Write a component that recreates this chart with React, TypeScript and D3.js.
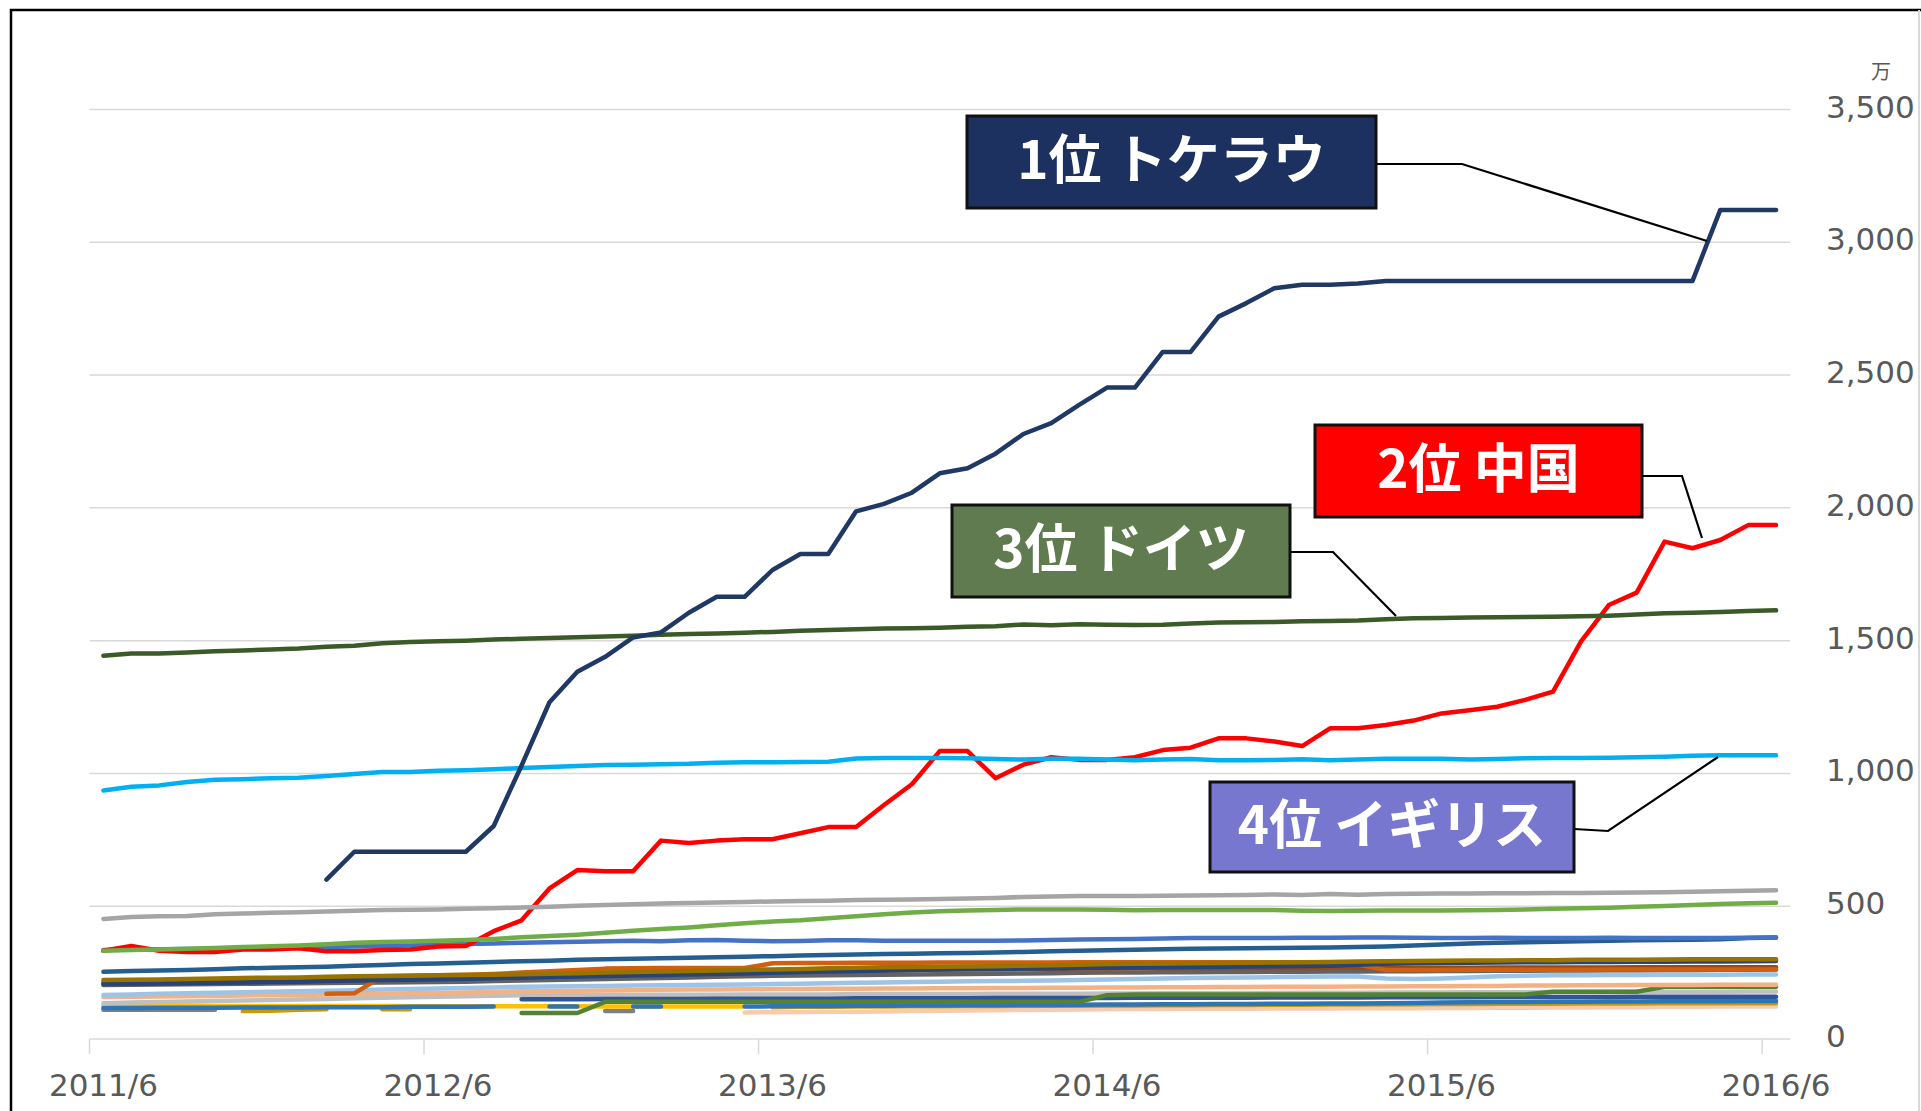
import * as d3 from "d3";

// months on the category axis (2011/6 .. 2016/6)
const months = [
  "2011/6", "2011/7", "2011/8", "2011/9", "2011/10", "2011/11", "2011/12",
  "2012/1", "2012/2", "2012/3", "2012/4", "2012/5", "2012/6", "2012/7", "2012/8", "2012/9", "2012/10", "2012/11", "2012/12",
  "2013/1", "2013/2", "2013/3", "2013/4", "2013/5", "2013/6", "2013/7", "2013/8", "2013/9", "2013/10", "2013/11", "2013/12",
  "2014/1", "2014/2", "2014/3", "2014/4", "2014/5", "2014/6", "2014/7", "2014/8", "2014/9", "2014/10", "2014/11", "2014/12",
  "2015/1", "2015/2", "2015/3", "2015/4", "2015/5", "2015/6", "2015/7", "2015/8", "2015/9", "2015/10", "2015/11", "2015/12",
  "2016/1", "2016/2", "2016/3", "2016/4", "2016/5", "2016/6",
];
const tickLabels = ["2011/6", "2012/6", "2013/6", "2014/6", "2015/6", "2016/6"];
const yTicks = [0, 500, 1000, 1500, 2000, 2500, 3000, 3500];

const _ = null;

// 万 units
const tokelau = [
  _, _, _, _, _, _, _, _, 600, 705, 705, 705, 705, 705, 802, 1030, 1268, 1383, 1439, 1512,
  1531, 1605, 1665, 1665, 1766, 1826, 1826, 1987, 2015, 2057, 2130, 2149, 2204, 2278, 2319, 2388,
  2453, 2453, 2587, 2587, 2720, 2771, 2827, 2840, 2840, 2845, 2854, 2854, 2854, 2854, 2854, 2854,
  2854, 2854, 2854, 2854, 2854, 2854, 3122, 3122, 3122,
];
const china = [
  332, 350, 332, 328, 328, 337, 337, 342, 330, 330, 335, 337, 348, 350, 406, 447, 567, 636, 632, 632,
  747, 738, 747, 752, 752, 775, 798, 798, 881, 959, 1084, 1084, 982, 1033, 1061, 1051,
  1051, 1061, 1088, 1097, 1132, 1132, 1120, 1103, 1170, 1170, 1182, 1199, 1226, 1238, 1251, 1277,
  1308, 1496, 1634, 1681, 1873, 1848, 1879, 1935, 1935,
];
const germany = [
  1443, 1452, 1452, 1455, 1460, 1463, 1467, 1470, 1477, 1481, 1490, 1495, 1498, 1500, 1504, 1507, 1510, 1513, 1516, 1518,
  1522, 1525, 1527, 1530, 1533, 1537, 1540, 1543, 1546, 1547, 1549, 1552, 1554, 1561, 1558, 1562,
  1560, 1559, 1560, 1565, 1568, 1569, 1570, 1573, 1574, 1576, 1581, 1584, 1585, 1587, 1588, 1589,
  1590, 1592, 1594, 1598, 1603, 1605, 1608, 1612, 1614,
];
const uk = [
  936, 950, 955, 968, 976, 978, 982, 984, 990, 998, 1005, 1005, 1010, 1012, 1016, 1020, 1024, 1028, 1032, 1033,
  1035, 1036, 1040, 1042, 1042, 1043, 1044, 1056, 1058, 1058, 1058, 1057, 1054, 1052, 1055, 1055,
  1052, 1050, 1052, 1054, 1050, 1050, 1051, 1053, 1050, 1052, 1055, 1055, 1055, 1052, 1054, 1057,
  1058, 1058, 1059, 1061, 1063, 1067, 1068, 1068, 1068,
];

// the smaller countries
const grayA = [
  452, 459, 462, 463, 470, 473, 475, 477, 480, 483, 486, 487, 488, 490, 492, 495, 498, 502, 505, 507,
  510, 512, 514, 516, 518, 520, 521, 523, 524, 525, 527, 529, 531, 535, 537, 538,
  538, 538, 539, 540, 541, 542, 544, 542, 546, 543, 546, 547, 548, 548, 549, 549,
  550, 550, 551, 552, 553, 554, 556, 558, 560,
];
const greenA = [
  332, 335, 337, 340, 343, 346, 349, 352, 357, 362, 365, 367, 370, 373, 377, 383, 388, 393, 400, 408,
  414, 420, 428, 436, 442, 447, 455, 462, 470, 476, 481, 484, 486, 488, 488, 488,
  487, 485, 486, 486, 486, 486, 486, 483, 482, 483, 484, 484, 484, 485, 486, 488,
  490, 492, 494, 498, 501, 505, 508, 511, 513,
];
const blueA = [
  335, 337, 338, 339, 340, 342, 344, 345, 346, 348, 350, 352, 355, 358, 360, 362, 364, 366, 368, 370,
  368, 372, 373, 370, 368, 369, 372, 372, 370, 370, 370, 370, 370, 371, 373, 375,
  376, 377, 378, 380, 380, 380, 380, 381, 381, 382, 382, 381, 380, 380, 381, 380,
  380, 380, 381, 380, 380, 380, 380, 381, 382,
];
const darkBlueA = [
  253, 256, 258, 260, 263, 266, 268, 270, 272, 276, 279, 282, 284, 287, 290, 293, 295, 298, 300, 302,
  304, 306, 308, 310, 312, 314, 316, 318, 320, 321, 323, 324, 326, 328, 330, 332,
  334, 336, 338, 340, 341, 342, 343, 344, 345, 346, 348, 352, 356, 360, 362, 364,
  366, 368, 370, 372, 373, 374, 376, 380, 382,
];
const oliveA = [
  222, 223, 224, 226, 228, 230, 231, 232, 234, 236, 237, 238, 240, 241, 242, 244, 246, 248, 250, 252,
  254, 256, 258, 260, 262, 264, 266, 268, 270, 271, 272, 273, 274, 276, 278, 280,
  282, 283, 284, 285, 286, 287, 288, 289, 290, 292, 293, 294, 295, 296, 296, 297,
  297, 298, 298, 298, 299, 300, 300, 300, 300,
];
const navyA = [
  207, 208, 209, 210, 212, 213, 215, 216, 218, 220, 222, 223, 225, 227, 229, 231, 233, 235, 237, 239,
  241, 243, 245, 247, 249, 252, 254, 256, 258, 260, 262, 263, 264, 265, 266, 267,
  268, 269, 270, 271, 272, 273, 274, 275, 276, 280, 283, 285, 286, 287, 288, 289,
  289, 290, 290, 291, 291, 292, 292, 293, 294,
];
const grayB = [
  203, 204, 205, 206, 207, 208, 209, 210, 211, 212, 213, 214, 215, 216, 218, 220, 222, 224, 226, 228,
  230, 232, 234, 236, 238, 239, 240, 241, 242, 243, 244, 245, 246, 247, 248, 249,
  250, 250, 251, 251, 252, 252, 253, 253, 254, 254, 255, 255, 256, 256, 257, 257,
  258, 258, 259, 259, 260, 260, 261, 261, 262,
];
const brownA = [
  214, 215, 216, 217, 219, 220, 222, 223, 225, 227, 229, 231, 233, 235, 237, 239, 241, 243, 245, 247,
  248, 250, 251, 252, 253, 254, 255, 256, 258, 260, 262, 263, 263, 264, 264, 265,
  265, 266, 266, 266, 267, 267, 267, 267, 268, 268, 268, 268, 268, 268, 269, 269,
  269, 269, 269, 270, 270, 270, 270, 270, 270,
];
const orangeA = [
  _, _, _, _, _, _, _, _, 170, 172, 236, 238, 240, 242, 245, 250, 255, 260, 265, 266,
  267, 267, 267, 267, 285, 286, 286, 287, 287, 287, 288, 288, 288, 288, 288, 289,
  289, 289, 289, 289, 289, 289, 289, 289, 289, 280, 260, 260, 260, 261, 261, 261,
  261, 261, 262, 262, 262, 262, 262, 262, 262,
];
const lightBlueA = [
  166, 168, 170, 172, 174, 176, 178, 180, 182, 184, 186, 188, 190, 192, 194, 197, 198, 199, 200, 201,
  202, 203, 204, 205, 207, 208, 210, 212, 213, 215, 216, 217, 218, 219, 220, 222,
  224, 226, 228, 230, 231, 232, 233, 234, 235, 235, 228, 226, 228, 232, 236, 238,
  240, 240, 241, 241, 242, 242, 242, 243, 243,
];
const lightOrangeA = [
  158, 159, 160, 161, 162, 164, 165, 166, 168, 169, 170, 172, 173, 175, 177, 180, 181, 182, 183, 184,
  185, 186, 186, 187, 188, 188, 189, 189, 190, 190, 191, 191, 192, 192, 193, 193,
  194, 194, 195, 195, 196, 196, 197, 197, 197, 198, 198, 199, 199, 200, 200, 201,
  201, 202, 202, 203, 203, 203, 204, 204, 204,
];
const lightGrayA = [
  135, 137, 139, 141, 143, 145, 147, 149, 151, 153, 155, 157, 159, 161, 163, 165, 165, 166, 166, 166,
  167, 167, 167, 168, 168, 168, 168, 169, 169, 169, 169, 169, 170, 170, 170, 170,
  171, 171, 172, 172, 172, 173, 173, 174, 174, 174, 175, 175, 175, 176, 176, 176,
  177, 177, 177, 178, 178, 178, 178, 179, 179,
];
const yellowA = [
  125, 125, 125, 125, 124, 124, 124, 124, 124, 124, 124, 123, 123, 123, 123, 123, 123, 123, 122, 122,
  122, 122, 122, 122, _, _, _, _, _, _, _, _, _, _, _, _,
  _, _, _, _, _, _, _, _, _, _, _, _, _, _, _, _,
  _, _, _, _, _, _, _, _, _,
];
const blueB = [
  117, 117, 118, 118, 118, 119, 119, 119, 120, 120, 120, 121, 121, 121, 122, _, 122, 122, _, 122,
  122, _, _, 122, 123, 124, 124, 125, 125, 126, 126, 127, 127, 128, 128, 129,
  130, 130, 131, 131, 132, 132, 133, 133, 134, 134, 135, 136, 137, 138, 139, 139,
  140, 140, 141, 141, 142, 142, 142, 143, 143,
];
const greenB = [
  _, _, _, _, _, _, _, _, _, _, _, _, _, _, _, 98, 98, 98, 140, 140,
  140, 140, 140, 140, 140, 140, 140, 140, 140, 140, 140, 140, 140, 140, 140, 140,
  165, 168, 168, 168, 168, 168, 168, 168, 168, 168, 168, 168, 168, 168, 168, 168,
  178, 178, 178, 178, 197, 197, 197, 197, 197,
];
const blueC = [
  _, _, _, _, _, _, _, _, _, _, _, _, _, _, _, 150, 150, 150, 151, 151,
  151, 151, 152, 152, 152, 152, 152, 153, 153, 153, 153, 153, 154, 154, 154, 154,
  154, 155, 155, 155, 155, 155, 156, 156, 156, 156, 157, 157, 157, 157, 158, 158,
  158, 158, 158, 159, 159, 159, 159, 159, 159,
];
const peachA = [
  _, _, _, _, _, _, _, _, _, _, _, _, _, _, _, _, _, _, _, _,
  _, _, _, 100, 101, 102, 103, 103, 104, 105, 106, 107, 108, 109, 110, 111,
  112, 113, 113, 114, 114, 114, 115, 115, 115, 116, 116, 116, 117, 117, 118, 118,
  119, 119, 120, 120, 121, 121, 122, 122, 122,
];
const grayC = [
  110, 110, 110, 110, 110, _, _, _, _, _, _, _, _, _, _, _, _, _, 105, 105,
  _, _, _, _, _, _, _, _, _, _, _, _, _, _, _, _,
  _, _, _, _, _, _, _, _, _, _, _, _, _, _, _, _,
  _, _, _, _, _, _, _, _, _,
];
const goldA = [
  _, _, _, _, _, 105, 106, 110, 112, _, 112, 112, _, _, _, _, _, _, _, _,
  _, _, _, _, 120, 121, 121, 122, 122, 123, 123, 124, 124, 125, 125, 125,
  126, 126, 127, 127, 128, 128, 129, 129, 130, 130, 131, 131, 132, 132, 133, 133,
  133, 134, 134, 134, 135, 135, 135, 135, 135,
];

const series = [
  { key: "peachA", values: peachA },
  { key: "goldA", values: goldA },
  { key: "grayC", values: grayC },
  { key: "yellowA", values: yellowA },
  { key: "blueB", values: blueB },
  { key: "lightGrayA", values: lightGrayA },
  { key: "blueC", values: blueC },
  { key: "greenB", values: greenB },
  { key: "lightOrangeA", values: lightOrangeA },
  { key: "lightBlueA", values: lightBlueA },
  { key: "grayB", values: grayB },
  { key: "brownA", values: brownA },
  { key: "orangeA", values: orangeA },
  { key: "navyA", values: navyA },
  { key: "oliveA", values: oliveA },
  { key: "darkBlueA", values: darkBlueA },
  { key: "blueA", values: blueA },
  { key: "china", values: china },
  { key: "greenA", values: greenA },
  { key: "grayA", values: grayA },
  { key: "uk", values: uk },
  { key: "germany", values: germany },
  { key: "tokelau", values: tokelau },
];

const colors: Record<string, string> = {
  peachA: "#F8CBAD",
  goldA: "#C99A06",
  grayC: "#7F7F7F",
  yellowA: "#FFC000",
  blueB: "#2E75B6",
  lightGrayA: "#BFBFBF",
  blueC: "#2F5597",
  greenB: "#548235",
  lightOrangeA: "#F4B183",
  lightBlueA: "#9DC3E6",
  grayB: "#636363",
  brownA: "#9E480E",
  orangeA: "#D0600F",
  navyA: "#264478",
  oliveA: "#997300",
  darkBlueA: "#255E91",
  blueA: "#4472C4",
  china: "#FF0000",
  greenA: "#70AD47",
  grayA: "#A5A5A5",
  uk: "#00B0F0",
  germany: "#3A5A28",
  tokelau: "#1F3864",
};

const labels = [
  { text: "1位 トケラウ", fill: "#1C3160", box: [967, 116, 409, 92], path: [[1377, 164], [1462, 164], [1707, 241]] },
  { text: "2位 中国", fill: "#FF0000", box: [1315, 425, 327, 92], path: [[1642, 476], [1682, 476], [1702, 538]] },
  { text: "3位 ドイツ", fill: "#5F7B4F", box: [952, 505, 338, 92], path: [[1291, 552], [1333, 552], [1396, 616]] },
  { text: "4位 イギリス", fill: "#7777CF", box: [1210, 782, 364, 90], path: [[1574, 829], [1608, 831], [1718, 757]] },
];

export default function App() {
  const W = 1921;
  const H = 1111;
  const x = d3.scaleBand<string>().domain(months).range([89.5, 1790]).padding(0);
  const y = d3.scaleLinear().domain([0, 3500]).range([1039, 109.5]);
  const cx = (m: string) => (x(m) ?? 0) + x.bandwidth() / 2;

  const line = d3
    .line<number | null>()
    .defined((d) => d != null)
    .x((_d, i) => cx(months[i]))
    .y((d) => y(d as number));

  const tickFont = "'DejaVu Sans', Verdana, sans-serif";

  return (
    <svg
      width={W}
      height={H}
      viewBox={`0 0 ${W} ${H}`}
      style={{ position: "absolute", left: 0, top: 0, background: "#fff", display: "block" }}
    >
      <rect x={0} y={0} width={W} height={H} fill="#fff" />
      {/* frame */}
      <path d={`M11,${H} L11,10 L${W},10`} fill="none" stroke="#000" strokeWidth={2.5} />
      <line x1={1919} x2={1919} y1={10} y2={H} stroke="#D9D9D9" strokeWidth={2} />

      {/* grid */}
      {yTicks.map((t) => (
        <line key={t} x1={89.5} x2={1790} y1={y(t)} y2={y(t)} stroke="#D9D9D9" strokeWidth={1.5} />
      ))}
      {tickLabels.map((m) => (
        <line key={m} x1={x(m)} x2={x(m)} y1={y(0)} y2={y(0) + 15} stroke="#D9D9D9" strokeWidth={1.5} />
      ))}

      {/* y labels */}
      {yTicks.map((t) => (
        <text
          key={t}
          x={1826}
          y={y(t) - 3}
          dominantBaseline="central"
          fontFamily={tickFont}
          fontSize={31}
          fill="#595959"
        >
          {d3.format(",")(t)}
        </text>
      ))}
      <text x={1881} y={70} textAnchor="middle" dominantBaseline="central" fontFamily="'Noto Sans CJK JP'" fontSize={20} fill="#595959">
        万
      </text>

      {/* x labels */}
      {tickLabels.map((m) => (
        <text
          key={m}
          x={cx(m)}
          y={1085}
          textAnchor="middle"
          dominantBaseline="central"
          fontFamily={tickFont}
          fontSize={31}
          fill="#595959"
        >
          {m}
        </text>
      ))}

      {/* lines */}
      {series.map((s) => (
        <path
          key={s.key}
          d={line(s.values) ?? ""}
          fill="none"
          stroke={colors[s.key]}
          strokeWidth={4.5}
          strokeLinejoin="round"
          strokeLinecap="round"
        />
      ))}

      {/* callouts */}
      {labels.map((l) => {
        const [bx, by, bw, bh] = l.box;
        return (
          <g key={l.text}>
            <path
              d={d3.line()(l.path as [number, number][]) ?? ""}
              fill="none"
              stroke="#000"
              strokeWidth={2.2}
            />
            <rect x={bx} y={by} width={bw} height={bh} fill={l.fill} stroke="#111" strokeWidth={3} />
            <text
              x={bx + bw / 2}
              y={by + bh / 2 - 6}
              textAnchor="middle"
              dominantBaseline="central"
              fontFamily="'Noto Sans CJK JP', sans-serif"
              fontWeight={700}
              fontSize={53}
              fill="#fff"
            >
              {l.text}
            </text>
          </g>
        );
      })}
    </svg>
  );
}
